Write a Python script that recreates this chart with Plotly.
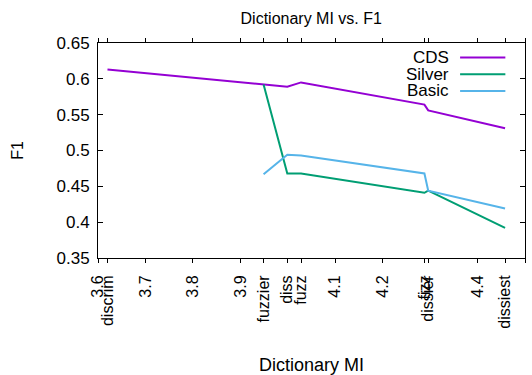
import plotly.graph_objects as go

# Dictionary MI values for each word position on the x axis
word_labels = ["discrim", "fuzzier", "diss", "fuzz", "fizz", "dissier", "dissiest"]
word_mi = [3.62, 3.949, 3.999, 4.028, 4.288, 4.296, 4.458]

# F1 scores per series
cds_mi = [3.62, 3.949, 3.999, 4.028, 4.288, 4.296, 4.458]
cds_f1 = [0.613, 0.592, 0.589, 0.595, 0.564, 0.556, 0.531]

silver_mi = [3.949, 3.999, 4.028, 4.288, 4.296, 4.458]
silver_f1 = [0.592, 0.468, 0.468, 0.441, 0.444, 0.392]

basic_mi = [3.949, 3.999, 4.028, 4.288, 4.296, 4.458]
basic_f1 = [0.467, 0.494, 0.493, 0.468, 0.444, 0.419]

series_names = ["CDS", "Silver", "Basic"]
series_colors = ["#9400d3", "#009e73", "#56b4e9"]

# Numeric axis ticks (4.0 and 4.3 are taken by word labels)
num_ticks = [3.6, 3.7, 3.8, 3.9, 4.1, 4.2, 4.4, 4.5]
y_ticks = [0.35, 0.4, 0.45, 0.5, 0.55, 0.6, 0.65]

font = "Liberation Sans, Arial, sans-serif"

fig = go.Figure()
for name, xs, ys, col in zip(series_names,
                             [cds_mi, silver_mi, basic_mi],
                             [cds_f1, silver_f1, basic_f1],
                             series_colors):
    fig.add_trace(go.Scatter(x=xs, y=ys, mode="lines", name=name,
                             line=dict(color=col, width=2),
                             showlegend=False))

tickvals = num_ticks + word_mi
ticktext = [f"{v:g}" for v in num_ticks] + word_labels

# gnuplot-style key: right-aligned names followed by a line sample
for i, (name, col) in enumerate(zip(series_names, series_colors)):
    yk = 0.933 - i * 0.078
    fig.add_annotation(xref="paper", yref="paper", x=0.826, y=yk,
                       text=name, showarrow=False, xanchor="right",
                       yanchor="middle",
                       font=dict(family=font, size=17, color="black"))
    fig.add_shape(type="line", xref="paper", yref="paper",
                  x0=0.848, x1=0.954, y0=yk, y1=yk,
                  line=dict(color=col, width=2))

fig.update_layout(
    template="none",
    width=532, height=375,
    margin=dict(l=98, r=7, t=43, b=117),
    paper_bgcolor="white", plot_bgcolor="white",
    font=dict(family=font, size=16, color="black"),
    title=dict(text="Dictionary MI vs. F1", x=0.585, xanchor="center",
               y=0.95, yanchor="middle", font=dict(size=16)),
)
fig.update_xaxes(
    range=[3.6, 4.5], tickmode="array", tickvals=tickvals, ticktext=ticktext,
    tickangle=-90, ticks="outside", ticklen=4, tickcolor="black",
    tickfont=dict(size=16),
    mirror="allticks", showline=True, linecolor="black", linewidth=1,
    showgrid=False, zeroline=False, ticklabelstandoff=6, automargin=False,
    title=dict(text="Dictionary MI", standoff=38, font=dict(size=18)),
)
fig.update_yaxes(
    range=[0.35, 0.65], tickmode="array", tickvals=y_ticks,
    ticktext=[f"{v:g}" for v in y_ticks],
    ticks="inside", ticklen=5, tickcolor="black",
    tickfont=dict(size=17), ticklabelstandoff=4,
    mirror="allticks", showline=True, linecolor="black", linewidth=1,
    showgrid=False, zeroline=False, automargin=False,
    title=dict(text="F1", standoff=28, font=dict(size=16)),
)

fig.write_html("out.html")
